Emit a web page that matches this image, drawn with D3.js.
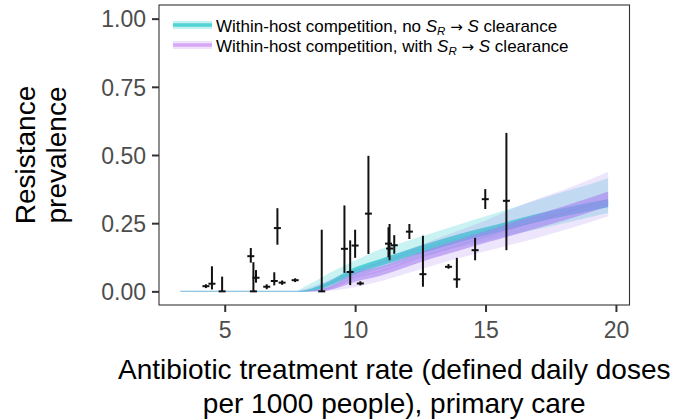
<!DOCTYPE html>
<html>
<head>
<meta charset="utf-8">
<script src="https://cdn.jsdelivr.net/npm/d3@7"></script>
<style>
  html, body { margin: 0; padding: 0; background: #fff; }
  svg { display: block; font-family: "Liberation Sans", Arial, Helvetica, sans-serif; }
</style>
</head>
<body>
<svg id="chart" width="675" height="420"></svg>
<script>
// Model grid: antibiotic treatment rate (DDD per 1000 people)
const rateGrid = [3.3, 4, 5, 6, 7, 7.5, 7.7, 8, 8.3, 8.7, 9, 10, 11, 12, 13, 14, 15, 16, 17, 18, 19, 19.7];

// Within-host competition, no S_R -> S clearance (95% / 50% intervals and median)
const noClearLo95 = [0, 0, 0, 0, 0, 0, 0, 0, 0, 0, 0.01, 0.052, 0.084, 0.112, 0.138, 0.163, 0.185, 0.207, 0.228, 0.25, 0.272, 0.287];
const noClearLo50 = [0, 0, 0, 0, 0, 0, 0, 0, 0.001, 0.01, 0.02, 0.064, 0.094, 0.125, 0.153, 0.18, 0.205, 0.23, 0.254, 0.275, 0.295, 0.308];
const noClearMed  = [0, 0, 0, 0, 0, 0, 0, 0, 0.005, 0.017, 0.028, 0.075, 0.106, 0.138, 0.167, 0.195, 0.22, 0.245, 0.27, 0.29, 0.31, 0.322];
const noClearHi50 = [0, 0, 0, 0, 0, 0, 0, 0.003, 0.01, 0.024, 0.037, 0.088, 0.12, 0.152, 0.182, 0.21, 0.235, 0.26, 0.285, 0.306, 0.326, 0.338];
const noClearHi95 = [0, 0, 0, 0, 0, 0, 0, 0.014, 0.029, 0.05, 0.066, 0.113, 0.155, 0.185, 0.215, 0.245, 0.275, 0.305, 0.335, 0.365, 0.393, 0.415];

// Within-host competition, with S_R -> S clearance
const clearLo95 = [0, 0, 0, 0, 0, 0, 0, 0, 0, 0, 0.002, 0.016, 0.038, 0.066, 0.095, 0.122, 0.147, 0.172, 0.197, 0.224, 0.253, 0.275];
const clearLo50 = [0, 0, 0, 0, 0, 0, 0, 0, 0, 0, 0.004, 0.035, 0.058, 0.09, 0.122, 0.15, 0.178, 0.205, 0.232, 0.26, 0.29, 0.311];
const clearMed  = [0, 0, 0, 0, 0, 0, 0, 0, 0, 0.005, 0.01, 0.05, 0.075, 0.108, 0.14, 0.17, 0.2, 0.23, 0.258, 0.287, 0.316, 0.337];
const clearHi50 = [0, 0, 0, 0, 0, 0, 0, 0, 0.002, 0.01, 0.018, 0.068, 0.092, 0.126, 0.16, 0.19, 0.22, 0.252, 0.282, 0.312, 0.343, 0.366];
const clearHi95 = [0, 0, 0, 0, 0, 0, 0, 0.006, 0.015, 0.03, 0.042, 0.08, 0.115, 0.152, 0.188, 0.224, 0.26, 0.302, 0.34, 0.373, 0.41, 0.439];

// Observed resistance prevalence with 95% intervals
const obsRate = [4.28, 4.51, 4.90, 6.00, 6.10, 6.20, 6.61, 6.90, 7.02, 7.20, 7.70, 8.72, 9.59, 9.81, 10.00, 10.20, 10.51, 11.28, 11.32, 11.50, 12.08, 12.60, 13.58, 13.90, 14.60, 14.99, 15.80];
const obsPrev = [0.019, 0.028, 0.000, 0.129, 0.000, 0.050, 0.017, 0.038, 0.232, 0.032, 0.041, 0.000, 0.156, 0.071, 0.168, 0.029, 0.285, 0.175, 0.157, 0.169, 0.219, 0.063, 0.090, 0.044, 0.151, 0.338, 0.332];
const obsLo   = [0.012, 0.007, 0.000, 0.105, 0.000, 0.032, 0.008, 0.022, 0.171, 0.024, 0.034, 0.000, 0.068, 0.023, 0.123, 0.022, 0.137, 0.125, 0.114, 0.138, 0.192, 0.017, 0.083, 0.013, 0.114, 0.302, 0.151];
const obsHi   = [0.026, 0.092, 0.054, 0.159, 0.107, 0.078, 0.026, 0.070, 0.305, 0.040, 0.048, 0.226, 0.315, 0.187, 0.226, 0.037, 0.497, 0.235, 0.247, 0.206, 0.247, 0.204, 0.100, 0.123, 0.196, 0.375, 0.581];

const xTicks = [5, 10, 15, 20];
const yTicks = [0, 0.25, 0.5, 0.75, 1];
const legendLabels = ["no", "with"];

const svg = d3.select("#chart");
const panel = { left: 159, right: 629.5, top: 5, bottom: 305 };

// ggplot-style 5% expansion around the model grid / [0, 1]
const xExt = d3.extent(rateGrid);
const xPad = (xExt[1] - xExt[0]) * 0.05;
const x = d3.scaleLinear().domain([xExt[0] - xPad, xExt[1] + xPad]).range([panel.left, panel.right]);
const y = d3.scaleLinear().domain([-0.05, 1.05]).range([panel.bottom, panel.top]);

const series = [
  { lo95: noClearLo95, lo50: noClearLo50, med: noClearMed, hi50: noClearHi50, hi95: noClearHi95,
    color: "#3ccfd0", outerOp: 0.28, innerOp: 0.85, lineOp: 0.6, keyCore: "#52d3d3", keyHalo: "#c4f0f0" },
  { lo95: clearLo95, lo50: clearLo50, med: clearMed, hi50: clearHi50, hi95: clearHi95,
    color: "#a77df0", outerOp: 0.2, innerOp: 0.58, lineOp: 0.3, keyCore: "#d7a7f7", keyHalo: "#f1e2fc" }
];

const area = (lo, hi) => d3.area()
  .x((d, i) => x(rateGrid[i]))
  .y0((d, i) => y(lo[i]))
  .y1((d, i) => y(hi[i]))
  .curve(d3.curveMonotoneX)(rateGrid);
const line = (v) => d3.line()
  .x((d, i) => x(rateGrid[i]))
  .y((d, i) => y(v[i]))
  .curve(d3.curveMonotoneX)(rateGrid);

const bands = svg.append("g");
series.forEach(s => {
  bands.append("path").attr("d", area(s.lo95, s.hi95)).attr("fill", s.color).attr("fill-opacity", s.outerOp);
  bands.append("path").attr("d", area(s.lo50, s.hi50)).attr("fill", s.color).attr("fill-opacity", s.innerOp);
  bands.append("path").attr("d", line(s.med)).attr("fill", "none").attr("stroke", s.color)
    .attr("stroke-opacity", s.lineOp).attr("stroke-width", 1.2);
});

// Observed points: vertical interval plus short horizontal mark at the estimate
const obs = svg.append("g").attr("stroke", "#111").attr("stroke-width", 2);
obsRate.forEach((r, i) => {
  obs.append("line").attr("x1", x(r)).attr("x2", x(r)).attr("y1", y(obsLo[i])).attr("y2", y(obsHi[i]));
  obs.append("line").attr("x1", x(r) - 3.5).attr("x2", x(r) + 3.5).attr("y1", y(obsPrev[i])).attr("y2", y(obsPrev[i]));
});

// Panel border
svg.append("rect")
  .attr("x", panel.left).attr("y", panel.top)
  .attr("width", panel.right - panel.left).attr("height", panel.bottom - panel.top)
  .attr("fill", "none").attr("stroke", "#333").attr("stroke-width", 1.1);

// Axes
const xAxis = svg.append("g").attr("transform", `translate(0,${panel.bottom})`)
  .call(d3.axisBottom(x).tickValues(xTicks).tickSize(7).tickPadding(6).tickFormat(d3.format("d")));
const yAxis = svg.append("g").attr("transform", `translate(${panel.left},0)`)
  .call(d3.axisLeft(y).tickValues(yTicks).tickSize(7).tickPadding(6).tickFormat(d3.format(".2f")));
[xAxis, yAxis].forEach(g => {
  g.select(".domain").remove();
  g.selectAll(".tick line").attr("stroke", "#333").attr("stroke-width", 2);
  g.selectAll(".tick text").attr("fill", "#4d4d4d").attr("font-size", 23)
    .attr("font-family", "'Liberation Sans', Arial, sans-serif");
});
xAxis.selectAll(".tick text").attr("dy", null).attr("y", 33);
yAxis.selectAll(".tick text").attr("dy", "0.36em");

// Axis titles
const xTitle = svg.append("text").attr("text-anchor", "middle").attr("font-size", 28).attr("fill", "#000");
xTitle.append("tspan").attr("x", (panel.left + panel.right) / 2).attr("y", 379).text("Antibiotic treatment rate (defined daily doses");
xTitle.append("tspan").attr("x", (panel.left + panel.right) / 2).attr("y", 413).text("per 1000 people), primary care");

const yTitle = svg.append("text").attr("text-anchor", "middle").attr("font-size", 28).attr("fill", "#000")
  .attr("transform", `translate(0,${(panel.top + panel.bottom) / 2}) rotate(-90)`);
yTitle.append("tspan").attr("x", 0).attr("y", 35).text("Resistance");
yTitle.append("tspan").attr("x", 0).attr("y", 66).text("prevalence");

// Legend
const legend = svg.append("g").attr("transform", "translate(173,25)");
series.forEach((s, i) => {
  const row = legend.append("g").attr("transform", `translate(0,${i * 20})`);
  row.append("line").attr("x1", 0).attr("x2", 39).attr("y1", 0).attr("y2", 0)
    .attr("stroke", s.keyHalo).attr("stroke-width", 8);
  row.append("line").attr("x1", 0).attr("x2", 39).attr("y1", 0).attr("y2", 0)
    .attr("stroke", s.keyCore).attr("stroke-width", 3.5);
  const t = row.append("text").attr("x", 43).attr("y", 6.5).attr("font-size", 17).attr("fill", "#000");
  t.append("tspan").text(`Within-host competition, ${legendLabels[i]} `);
  t.append("tspan").attr("font-style", "italic").text("S");
  t.append("tspan").attr("font-style", "italic").attr("font-size", 11.5).attr("dy", 3.5).text("R");
  t.append("tspan").attr("dy", -3.5).text(" ");
  t.append("tspan").attr("font-family", "'DejaVu Sans', sans-serif").attr("font-size", 15).text("\u2192");
  t.append("tspan").text(" ");
  t.append("tspan").attr("font-style", "italic").text("S");
  t.append("tspan").text(" clearance");
});
</script>
</body>
</html>
